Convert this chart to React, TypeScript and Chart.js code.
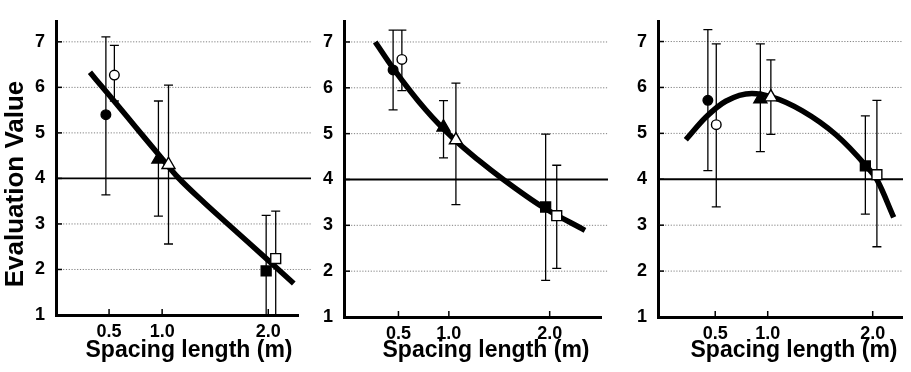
import React, { useEffect, useRef } from "react";
import { Chart, registerables } from "chart.js";

Chart.register(...registerables);

// ---------- data ----------
const X_TICKS = [0.5, 1.0, 2.0];
const X_TICK_LABELS = ["0.5", "1.0", "2.0"];
const Y_TICKS = [1, 2, 3, 4, 5, 6, 7];
const REFERENCE_VALUE = 4;
const X_TITLE = "Spacing length (m)";
const Y_TITLE = "Evaluation Value";

// marker order: filled circle, open circle, filled triangle, open triangle, filled square, open square
const MARKER_SHAPES = ["circle", "circle", "triangle", "triangle", "rect", "rect"];
const MARKER_FILLED = [true, false, true, false, true, false];

// Panel 1
const P1_X = [0.47, 0.55, 0.965, 1.06, 1.98, 2.07];
const P1_Y = [5.4, 6.27, 4.42, 4.3, 1.97, 2.24];
const P1_HI = [7.11, 6.92, 5.7, 6.05, 3.19, 3.28];
const P1_LO = [3.64, 5.7, 3.17, 2.56, 0.5, 0.5];
const P1_CURVE_X = [0.32, 0.5, 0.75, 1.0, 1.15, 1.4, 1.7, 2.0, 2.24];
const P1_CURVE_Y = [6.33, 5.83, 5.13, 4.43, 4.02, 3.46, 2.83, 2.2, 1.69];

// Panel 2
const P2_X = [0.447, 0.534, 0.947, 1.07, 1.96, 2.07];
const P2_Y = [6.39, 6.62, 5.14, 4.86, 3.4, 3.21];
const P2_HI = [7.26, 7.26, 5.72, 6.1, 4.99, 4.31];
const P2_LO = [5.52, 5.94, 4.47, 3.45, 1.8, 2.06];
const P2_CURVE_X = [0.27, 0.45, 0.77, 1.06, 1.3, 1.54, 1.93, 2.35];
const P2_CURVE_Y = [7.0, 6.42, 5.52, 4.86, 4.41, 4.0, 3.4, 2.89];

// Panel 3
const P3_X = [0.43, 0.51, 0.93, 1.03, 1.93, 2.04];
const P3_Y = [5.72, 5.19, 5.75, 5.79, 4.29, 4.1];
const P3_HI = [7.26, 6.95, 6.95, 6.6, 5.38, 5.72];
const P3_LO = [4.19, 3.4, 4.6, 4.98, 3.24, 2.53];
const P3_CURVE_X = [0.22, 0.41, 0.6, 0.85, 1.03, 1.33, 1.65, 1.93, 2.04, 2.2];
const P3_CURVE_Y = [4.86, 5.35, 5.7, 5.87, 5.8, 5.49, 4.97, 4.31, 3.99, 3.17];

const FONT = '"Liberation Sans", Arial, Helvetica, sans-serif';
const H = 372;

type PanelCfg = {
  left: number;
  width: number;
  areaLeft: number;
  areaRight: number;
  areaTop: number;
  areaBottom: number;
  xMin: number;
  xMax: number;
  yMax: number;
  gridRight: number;
  titleCx: number;
  yTitle: boolean;
  xs: number[];
  ys: number[];
  hi: number[];
  lo: number[];
  cx: number[];
  cy: number[];
};

const PANELS: PanelCfg[] = [
  { left: 0, width: 315, areaLeft: 56, areaRight: 298, areaTop: 6, areaBottom: 315, xMin: 0, xMax: 2.28, yMax: 7.44, gridRight: 311, titleCx: 189, yTitle: true, xs: P1_X, ys: P1_Y, hi: P1_HI, lo: P1_LO, cx: P1_CURVE_X, cy: P1_CURVE_Y },
  { left: 310, width: 300, areaLeft: 34, areaRight: 298, areaTop: 8, areaBottom: 317, xMin: -0.04, xMax: 2.51, yMax: 7.44, gridRight: 298, titleCx: 176, yTitle: false, xs: P2_X, ys: P2_Y, hi: P2_HI, lo: P2_LO, cx: P2_CURVE_X, cy: P2_CURVE_Y },
  { left: 610, width: 301, areaLeft: 48, areaRight: 293, areaTop: 9, areaBottom: 317, xMin: -0.045, xMax: 2.28, yMax: 7.43, gridRight: 293, titleCx: 184, yTitle: false, xs: P3_X, ys: P3_Y, hi: P3_HI, lo: P3_LO, cx: P3_CURVE_X, cy: P3_CURVE_Y },
];

function Panel({ cfg }: { cfg: PanelCfg }) {
  const ref = useRef<HTMLCanvasElement | null>(null);
  useEffect(() => {
    if (!ref.current) return;
    const decor = {
      id: "decor",
      beforeDatasetsDraw(chart: any) {
        const { ctx, chartArea: a, scales } = chart;
        const xs = scales.x;
        const ys = scales.y;
        ctx.save();
        Y_TICKS.forEach((v) => {
          if (v === Y_TICKS[0]) return;
          const py = ys.getPixelForValue(v);
          ctx.beginPath();
          if (v === REFERENCE_VALUE) {
            ctx.setLineDash([]);
            ctx.strokeStyle = "#000";
            ctx.lineWidth = 1.8;
          } else {
            ctx.setLineDash([1.2, 1.6]);
            ctx.strokeStyle = "#808080";
            ctx.lineWidth = 1;
          }
          ctx.moveTo(a.left + 1.5, py);
          ctx.lineTo(cfg.gridRight, py);
          ctx.stroke();
        });
        ctx.setLineDash([]);
        ctx.beginPath();
        ctx.rect(a.left, a.top - 2, a.right - a.left + 10, a.bottom - a.top + 2);
        ctx.clip();
        ctx.strokeStyle = "#000";
        ctx.lineWidth = 1.3;
        cfg.xs.forEach((x, i) => {
          const px = xs.getPixelForValue(x);
          const pHi = ys.getPixelForValue(cfg.hi[i]);
          const pLo = ys.getPixelForValue(cfg.lo[i]);
          ctx.beginPath();
          ctx.moveTo(px, pHi);
          ctx.lineTo(px, pLo);
          ctx.moveTo(px - 4.5, pHi);
          ctx.lineTo(px + 4.5, pHi);
          ctx.moveTo(px - 4.5, pLo);
          ctx.lineTo(px + 4.5, pLo);
          ctx.stroke();
        });
        ctx.restore();
      },
      afterDraw(chart: any) {
        const { ctx, chartArea: a, scales } = chart;
        const xs = scales.x;
        const ys = scales.y;
        ctx.save();
        ctx.strokeStyle = "#000";
        ctx.lineWidth = 1.5;
        X_TICKS.forEach((v) => {
          const px = xs.getPixelForValue(v);
          ctx.beginPath();
          ctx.moveTo(px, a.bottom);
          ctx.lineTo(px, a.bottom - 6);
          ctx.stroke();
        });
        Y_TICKS.forEach((v) => {
          const py = ys.getPixelForValue(v);
          ctx.beginPath();
          ctx.moveTo(a.left, py);
          ctx.lineTo(a.left + 6, py);
          ctx.stroke();
        });
        ctx.fillStyle = "#000";
        ctx.font = `bold 23px ${FONT}`;
        ctx.textAlign = "center";
        ctx.textBaseline = "middle";
        ctx.fillText(X_TITLE, cfg.titleCx, 351);
        if (cfg.yTitle) {
          ctx.translate(16, 184);
          ctx.rotate(-Math.PI / 2);
          ctx.font = `bold 26px ${FONT}`;
          ctx.fillText(Y_TITLE, 0, 0);
        }
        ctx.restore();
      },
    };

    const chart = new Chart(ref.current, {
      type: "scatter",
      data: {
        datasets: [
          {
            type: "scatter",
            data: cfg.xs.map((x, i) => ({ x, y: cfg.ys[i] })),
            pointStyle: MARKER_SHAPES as any,
            pointRadius: MARKER_SHAPES.map((s) => (s === "circle" ? 4.8 : s === "triangle" ? 7.5 : 7)),
            backgroundColor: MARKER_FILLED.map((f) => (f ? "#000" : "#fff")),
            borderColor: "#000",
            borderWidth: 1.4,
            showLine: false,
          } as any,
          {
            type: "line",
            data: cfg.cx.map((x, i) => ({ x, y: cfg.cy[i] })),
            borderColor: "#000",
            borderWidth: 5.5,
            pointRadius: 0,
            cubicInterpolationMode: "monotone",
            fill: false,
            showLine: true,
          } as any,
        ],
      },
      options: {
        animation: false,
        responsive: false,
        maintainAspectRatio: false,
        events: [],
        layout: { padding: { top: cfg.areaTop, right: cfg.width - cfg.areaRight, left: 0, bottom: 0 } },
        plugins: { legend: { display: false }, tooltip: { enabled: false } },
        scales: {
          x: {
            type: "linear",
            min: cfg.xMin,
            max: cfg.xMax,
            afterBuildTicks: (s: any) => {
              s.ticks = X_TICKS.map((v) => ({ value: v }));
            },
            afterFit: (s: any) => {
              s.height = H - cfg.areaBottom;
            },
            ticks: {
              callback: (v: any) => {
                const i = X_TICKS.indexOf(Number(v));
                return i >= 0 ? X_TICK_LABELS[i] : "";
              },
              font: { family: FONT, size: 18, weight: "bold" },
              color: "#000",
              padding: 6,
              maxRotation: 0,
              autoSkip: false,
            },
            grid: { display: false, drawTicks: false },
            border: { display: true, color: "#000", width: 3 },
          },
          y: {
            type: "linear",
            min: 1,
            max: cfg.yMax,
            afterBuildTicks: (s: any) => {
              s.ticks = Y_TICKS.map((v) => ({ value: v }));
            },
            afterFit: (s: any) => {
              s.width = cfg.areaLeft;
            },
            ticks: {
              font: { family: FONT, size: 18, weight: "bold" },
              color: "#000",
              padding: 11,
              autoSkip: false,
            },
            grid: { display: false, drawTicks: false },
            border: { display: true, color: "#000", width: 3 },
          },
        },
      } as any,
      plugins: [decor],
    });
    return () => chart.destroy();
  }, [cfg]);

  return (
    <canvas
      ref={ref}
      width={cfg.width}
      height={H}
      style={{ position: "absolute", left: cfg.left, top: 0, width: cfg.width, height: H }}
    />
  );
}

export default function App() {
  return (
    <div style={{ position: "fixed", left: 0, top: 0, width: 911, height: H, background: "#fff" }}>
      {PANELS.map((p, i) => (
        <Panel key={i} cfg={p} />
      ))}
    </div>
  );
}
